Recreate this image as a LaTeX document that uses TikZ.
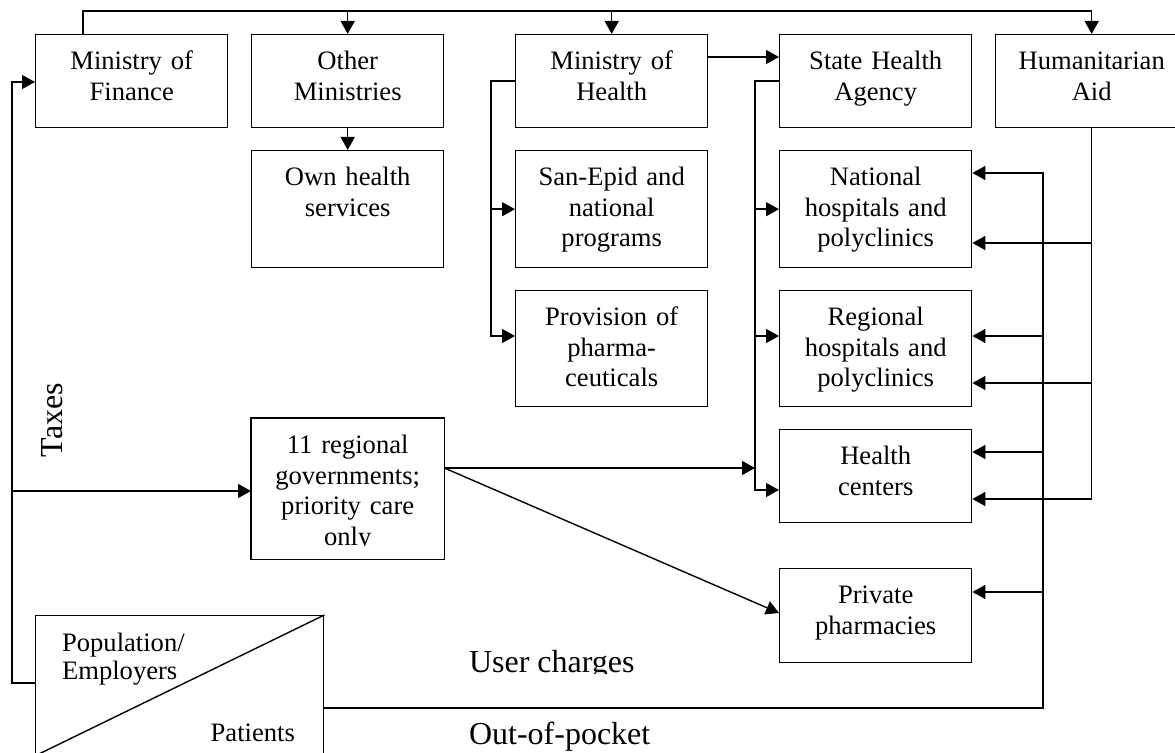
\documentclass[tikz,border=0pt]{standalone}
\usepackage{fontspec}
\setmainfont{Liberation Serif}
\usetikzlibrary{arrows.meta}

\newcommand{\boxfont}{\fontsize{13.3pt}{15.25pt}\selectfont}
\newcommand{\flowfont}{\fontsize{16pt}{19pt}\selectfont}

\tikzset{
  box/.style={draw, line width=0.7pt, anchor=north west, inner sep=0pt,
    text width=96pt, align=center, text height=17.5pt, text depth=#1,
    font=\boxfont},
  link/.style={draw, line width=0.7pt},
  flow/.style={link, -{Triangle[length=6.5pt,width=7pt]}},
}

\begin{document}
\begin{tikzpicture}[x=0.5pt,y=-0.5pt]
\useasboundingbox (0,0) rectangle (1175,753);

% funding agents
\node[box=29pt] (mof) at (35,34) {Ministry of\\Finance};
\node[box=29pt] (other) at (251,34) {Other\\Ministries};
\node[box=29pt] (moh) at (515,34) {Ministry of\\Health};
\node[box=29pt] (sha) at (779,34) {State Health\\Agency};
\node[box=29pt] (ha) at (995,34) {Humanitarian\\Aid};

% providers
\node[box=41pt] (own) at (251,150) {Own health\\services};
\node[box=41pt] (sanepid) at (515,150) {San-Epid and\\national\\programs};
\node[box=40.5pt] (prov) at (515,290) {Provision of\\pharma-\\ceuticals};
\node[box=41pt] (nat) at (779,150) {National\\hospitals and\\polyclinics};
\node[box=40.5pt] (reg) at (779,290) {Regional\\hospitals and\\polyclinics};
\node[box=29pt] (hc) at (779,429) {Health\\centers};
\node[box=29.5pt] (priv) at (779,568) {Private\\pharmacies};

% regional governments (last line runs out of the box)
\begin{scope}
  \clip (0,0) rectangle (1175,546);
  \node[box=52.5pt, draw=none] (regov) at (251,418)
    {11 regional\\governments;\\priority care\\only};
\end{scope}
\draw[link] (regov.north west) rectangle (regov.south east);

% payers
\node[draw, line width=0.7pt, anchor=north west, inner sep=0pt,
  minimum width=144pt, minimum height=69.75pt] (pop) at (35,615) {};
\draw[link] (pop.south west) -- (pop.north east);
\node[anchor=base west, align=left, font=\fontsize{13.3pt}{14pt}\selectfont]
  (payers) at (55,680) {Population/\\Employers};
\node[anchor=base east, font=\boxfont] (patients) at (302,742) {Patients};

% flow labels
\node[rotate=90, anchor=base, font=\flowfont] (taxes) at (62,420) {Taxes};
\begin{scope}
  \clip (440,600) rectangle (760,674);
  \node[anchor=base west, font=\flowfont] (user) at (462,673) {User charges};
\end{scope}
\node[anchor=base west, font=\flowfont] (oop) at (462,745) {Out-of-pocket};

% arrow ends
\path (reg.north west) ++(0,46) coordinate (regl)
      (reg.north east) ++(0,46) coordinate (regr1)
      (reg.north east) ++(0,93) coordinate (regr2)
      (nat.north east) ++(0,23) coordinate (natr1)
      (nat.north east) ++(0,93) coordinate (natr2)
      (hc.north east) ++(0,23) coordinate (hcr1)
      (hc.north east) ++(0,70) coordinate (hcr2)
      (priv.north east) ++(0,24) coordinate (privr)
      (priv.north west) ++(0,45) coordinate (privl)
      (regov.north west) ++(0,73) coordinate (regovl)
      (regov.north east) ++(0,50) coordinate (regovr)
      (pop.north west) ++(0,68) coordinate (popl)
      (pop.north east) ++(0,93) coordinate (popr)
      (mof.north west) ++(0,48) coordinate (mofl);
\coordinate (topl) at (83,11);
\coordinate (oopx) at (1043,0);

% state budget
\draw[flow] (mof.north -| topl) |- (topl -| ha.north) -- (ha.north);
\foreach \n in {other,moh}
  \draw[flow] (topl -| \n.north) -- (\n.north);
\draw[flow] (other) -- (own);

% ministry of health
\draw[flow] ([yshift=-11.5pt]moh.north east) -- ([yshift=-11.5pt]sha.north west);
\draw[flow] ([yshift=-23.5pt]moh.north west) -- ++(-24,0) coordinate (mohx)
  |- ([yshift=-23pt]prov.north west);
\draw[flow] (mohx |- sanepid.west) -- (sanepid.west);

% state health agency
\draw[flow] ([yshift=-23.5pt]sha.north west) -- ++(-24,0) coordinate (shax)
  |- ([yshift=-30.5pt]hc.north west);
\draw[flow] (shax |- nat.west) -- (nat.west);
\draw[flow] (regl -| shax) -- (regl);

% humanitarian aid
\draw[flow] (ha.south) |- (hcr2);
\foreach \t in {natr2,regr2}
  \draw[flow] (\t -| ha.south) -- (\t);

% out-of-pocket
\draw[flow] (popr) -| (oopx |- natr1) -- (natr1);
\foreach \t in {regr1,hcr1,privr}
  \draw[flow] (\t -| oopx) -- (\t);

% taxes
\draw[flow] (popl) -- ++(-23,0) coordinate (taxx) |- (mofl);
\draw[flow] (regovl -| taxx) -- (regovl);

% regional governments
\draw[flow] (regovr) -- (regovr -| shax);
\draw[flow] (regovr) -- (privl);

\end{tikzpicture}
\end{document}
